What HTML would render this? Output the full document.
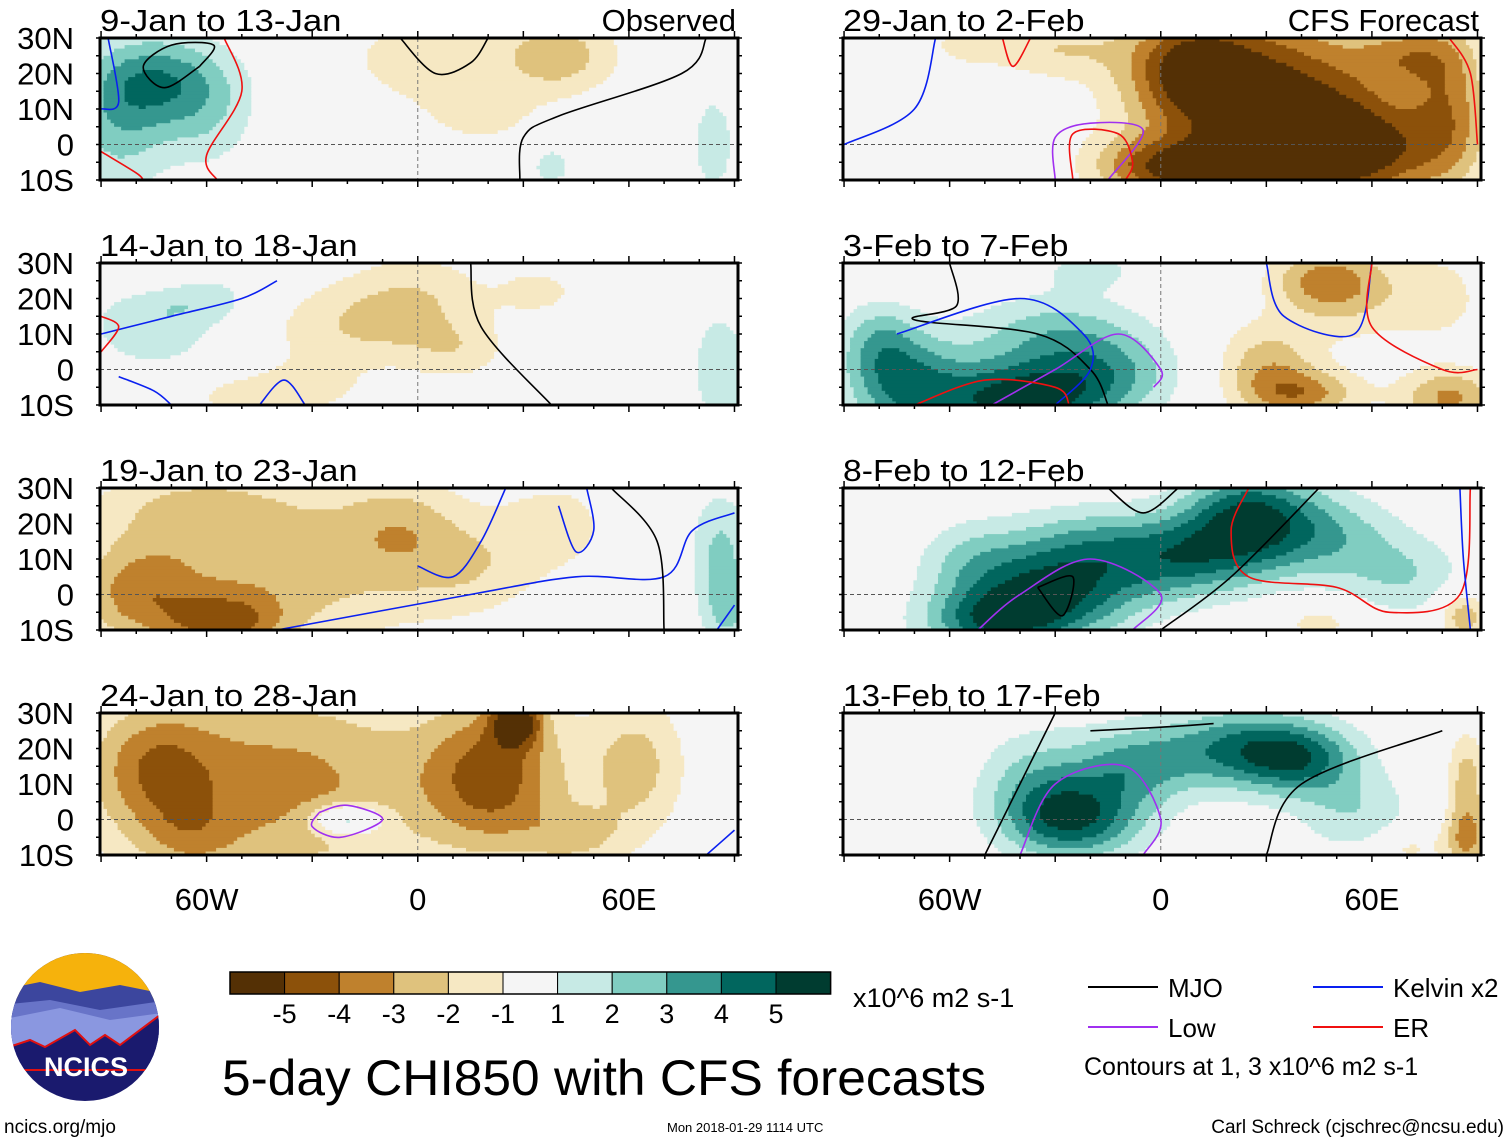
<!DOCTYPE html>
<html><head><meta charset="utf-8"><style>
body{margin:0;background:#fff;width:1510px;height:1142px;overflow:hidden;font-family:"Liberation Sans",Arial,sans-serif}
svg{display:block}
</style></head><body>
<svg id="fig" width="1510" height="1142" viewBox="0 0 1510 1142" xmlns="http://www.w3.org/2000/svg" font-family="Liberation Sans, Arial, sans-serif"></svg>
<script>
// ---- data ----
const levels = [-5,-4,-3,-2,-1,1,2,3,4,5];
const colors = ["#543005","#8c510a","#bf812d","#dfc27d","#f6e8c3","#f5f5f5","#c7eae5","#80cdc1","#35978f","#01665e","#003c30"];
const colorTickLabels = ["-5","-4","-3","-2","-1","1","2","3","4","5"];
const panelTitles = ["9-Jan to 13-Jan","14-Jan to 18-Jan","19-Jan to 23-Jan","24-Jan to 28-Jan","29-Jan to 2-Feb","3-Feb to 7-Feb","8-Feb to 12-Feb","13-Feb to 17-Feb"];
const latTicks = ["30N","20N","10N","0","10S"];
const latValues = [30,20,10,0,-10];
const lonTicks = ["60W","0","60E"];
const lonValues = [-60,0,60];
// anomaly blobs per panel: [lon, lat, amplitude, lonWidth, latWidth]
const blobs1 = [[-72,18,3.4,14,9],[-85,5,2.2,10,14],[-60,5,1.3,10,10],[40,25,-2.6,12,8],[2,24,-1.7,16,9],[18,8,-1.3,12,6],[84,0,1.5,5,12],[38,-6,1.4,5,5]];
const blobs2 = [[-20,12,-1.7,18,9],[0,20,-1.6,14,10],[12,5,-1.3,10,6],[-50,-8,-1.4,12,5],[-75,12,1.7,14,9],[-60,20,1.2,12,5],[86,0,1.8,6,12],[-78,28,-1.3,10,4],[35,22,-1.2,10,6],[-30,-5,-1.2,10,5]];
const blobs3 = [[-40,8,-2.6,32,16],[-80,0,-2.6,12,10],[-55,-8,-3.2,12,6],[-5,20,-1.6,12,10],[15,8,-1.4,14,10],[-65,25,-1.4,20,8],[40,20,-1.3,12,10],[86,12,2.2,6,12],[88,-5,1.8,5,8]];
const blobs4 = [[-40,10,-3.4,35,20],[22,12,-4.0,14,15],[28,28,-4.6,5,5],[-75,15,-2.4,12,12],[-65,-5,-1.4,10,8],[-20,0,3.6,7,3],[62,15,-2.4,10,14],[45,-5,-1.8,10,6]];
const blobs5 = [[30,12,-5.6,24,18],[55,-2,-4.6,18,10],[8,22,-3.4,12,10],[-5,-6,-2.4,12,6],[82,12,-2.8,8,16],[-30,27,-1.8,14,6],[15,-8,-3.5,14,6],[70,25,-2.2,10,6],[-55,28,-1.3,8,4]];
const blobs6 = [[-40,-9,5.4,16,8],[-72,-5,3.8,12,10],[-15,-2,2.6,14,8],[-30,10,2.4,18,8],[-80,8,2.2,8,8],[30,2,-2.4,10,8],[40,-7,-3.2,12,5],[55,22,-2.0,14,10],[82,-8,-3.2,10,6],[45,25,-2.2,10,6],[-20,28,1.3,10,4],[80,20,-1.3,8,8]];
const blobs7 = [[-32,0,4.8,18,9],[25,22,4.8,13,9],[8,10,3.4,16,8],[-48,-8,3.4,14,6],[48,16,2.4,14,9],[70,5,1.8,12,8],[-20,14,2.4,18,8],[-55,10,1.4,10,8],[86,-6,-2.8,5,5],[45,-8,-1.5,8,4]];
const blobs8 = [[-25,0,4.8,14,8],[22,20,3.8,16,8],[-8,15,2.8,12,8],[40,17,3.4,12,7],[55,2,1.8,12,8],[-35,12,2.0,12,10],[87,10,-2.6,4,10],[87,-6,-2.8,5,6],[70,-8,-1.4,6,4]];
const panelBlobs = [blobs1,blobs2,blobs3,blobs4,blobs5,blobs6,blobs7,blobs8];
// contour lines [type, [[lon,lat],...]]
const contours1 = [["mjo",[[-62,22],[-58,28],[-70,28],[-78,22],[-72,16],[-62,22]]],["er",[[-55,30],[-50,15],[-60,-3],[-57,-10]]],["er",[[-90,-2],[-80,-8],[-78,-10]]],["kelvin",[[-88,30],[-85,12],[-90,10]]],["mjo",[[-5,30],[5,20],[15,23],[20,30]]],["mjo",[[29,-10],[30,2],[40,8],[75,20],[82,30]]]];
const contours2 = [["kelvin",[[-90,10],[-70,15],[-50,20],[-40,25]]],["kelvin",[[-85,-2],[-75,-6],[-70,-10]]],["kelvin",[[-45,-10],[-38,-3],[-32,-10]]],["er",[[-90,5],[-85,12],[-90,15]]],["mjo",[[15,30],[18,12],[38,-10]]]];
const contours3 = [["kelvin",[[0,8],[10,5],[18,15],[25,30]]],["kelvin",[[-40,-10],[15,0],[45,5],[70,5],[78,18],[90,23]]],["kelvin",[[40,25],[45,12],[50,18],[48,30]]],["mjo",[[70,-10],[68,15],[55,30]]],["kelvin",[[85,-10],[90,-3]]]];
const contours4 = [["low",[[-28,2],[-20,4],[-10,0],[-22,-5],[-30,-2],[-28,2]]],["kelvin",[[82,-10],[90,-3]]]];
const contours5 = [["kelvin",[[-90,0],[-70,10],[-64,30]]],["low",[[-30,-10],[-30,2],[-20,6],[-5,4],[-15,-10]]],["er",[[-25,-10],[-25,3],[-12,3],[-8,-5],[-10,-10]]],["er",[[-45,30],[-42,22],[-37,30]]],["er",[[82,30],[88,20],[90,0]]]];
const contours6 = [["mjo",[[-60,30],[-58,18],[-70,14],[-35,10],[-20,0],[-15,-10]]],["kelvin",[[-75,10],[-40,20],[-22,10],[-20,0],[-30,-10]]],["low",[[-48,-10],[-30,0],[-12,10],[0,0],[-2,-5]]],["er",[[-70,-10],[-50,-3],[-30,-5],[-26,-10]]],["kelvin",[[30,30],[35,15],[55,10],[60,30]]],["er",[[60,30],[60,12],[80,0],[90,0]]]];
const contours7 = [["low",[[-52,-10],[-40,0],[-20,10],[0,0],[-8,-10]]],["mjo",[[-35,2],[-25,5],[-28,-6],[-35,2]]],["mjo",[[-15,30],[-5,23],[5,30]]],["er",[[25,30],[20,18],[25,5],[50,2],[65,-5],[85,0],[88,30]]],["mjo",[[0,-10],[20,5],[45,30]]],["kelvin",[[85,30],[86,10],[88,-10]]]];
const contours8 = [["mjo",[[-50,-10],[-40,10],[-30,30]]],["low",[[-40,-10],[-30,10],[-10,15],[0,0],[-5,-10]]],["mjo",[[-20,25],[0,26],[15,27]]],["mjo",[[30,-10],[40,10],[80,25]]]];
const panelContours = [contours1,contours2,contours3,contours4,contours5,contours6,contours7,contours8];

// ---- layout ----
const NS="http://www.w3.org/2000/svg";
const svg=document.getElementById('fig');
function mk(tag,attrs,parent){const e=document.createElementNS(NS,tag);for(const k in attrs)e.setAttribute(k,attrs[k]);(parent||svg).appendChild(e);return e;}
const colX=[100,843], rowY=[38,263,488,713], PW=638, PH=142;
const LON0=-90.3, LON1=91, LAT0=30, LAT1=-10;
const lineCol={mjo:"#000",kelvin:"#0a20f0",low:"#a030f0",er:"#f01010"};
function levelIndex(v){ if(v<=-5) return 0; if(v<=-4) return 1; if(v<=-3) return 2; if(v<=-2) return 3; if(v<=-1) return 4; if(v<1) return 5; if(v<2) return 6; if(v<3) return 7; if(v<4) return 8; if(v<5) return 9; return 10;}
function smoothPath(P){
  let d='M'+P[0][0].toFixed(1)+','+P[0][1].toFixed(1);
  for(let i=0;i<P.length-1;i++){
    const p0=P[Math.max(i-1,0)],p1=P[i],p2=P[i+1],p3=P[Math.min(i+2,P.length-1)];
    const c1=[p1[0]+(p2[0]-p0[0])/6,p1[1]+(p2[1]-p0[1])/6];
    const c2=[p2[0]-(p3[0]-p1[0])/6,p2[1]-(p3[1]-p1[1])/6];
    d+=' C'+c1.map(v=>v.toFixed(1)).join(',')+' '+c2.map(v=>v.toFixed(1)).join(',')+' '+p2.map(v=>v.toFixed(1)).join(',');
  }
  return d;
}

panelTitles.forEach((title,p)=>{
  const col=p<4?0:1,row=p%4;
  const x0=colX[col],y0=rowY[row];
  const g=mk('g',{},svg);
  
  
  const xs=lon=>x0+(lon-LON0)/(LON1-LON0)*PW;
  const ys=lat=>y0+(LAT0-lat)/(LAT0-LAT1)*PH;
  const blobs=panelBlobs[p];
  const field=(lon,lat)=>{let s=0;for(const b of blobs){const dx=(lon-b[0])/b[3],dy=(lat-b[1])/b[4];s+=b[2]*Math.exp(-(dx*dx+dy*dy)/2);}return s;};
  const cg=mk('g',{},g);
  
  
  const step=1;
  for(let lat=LAT0;lat>LAT1;lat-=step){
    let runStart=LON0,runIdx=null;
    for(let lon=LON0;lon<=LON1+step;lon+=step){
      const idx=lon>LON1?-1:levelIndex(field(lon+step/2,lat-step/2));
      if(idx!==runIdx){
        if(runIdx!==null&&runIdx>=0){
          const r=mk('rect',{x:xs(runStart).toFixed(1),y:ys(lat).toFixed(1),width:(xs(Math.min(lon,LON1))-xs(runStart)+0.6).toFixed(1),height:(ys(lat-step)-ys(lat)+0.6).toFixed(1),fill:colors[runIdx]},cg);
          
          
        }
        runIdx=idx;runStart=lon;
      }
    }
  }
  mk('line',{x1:x0,x2:x0+PW,y1:ys(0),y2:ys(0),stroke:'#555','stroke-dasharray':'4,3','stroke-width':1},g);
  mk('line',{x1:xs(0),x2:xs(0),y1:y0,y2:y0+PH,stroke:'#777','stroke-dasharray':'4,3','stroke-width':1},g);
  const clipId='pc'+p;
  mk('defs',{},g).innerHTML='<clipPath id="'+clipId+'"><rect x="'+x0+'" y="'+y0+'" width="'+PW+'" height="'+PH+'"/></clipPath>';
  const lg=mk('g',{'clip-path':'url(#'+clipId+')'},g);
  panelContours[p].forEach(c=>{
    const P=c[1].map(q=>[xs(q[0]),ys(q[1])]);
    const pa=mk('path',{d:smoothPath(P),fill:'none',stroke:lineCol[c[0]],'stroke-width':1.6,'stroke-linejoin':'round'},lg);
    
    
  });
  const fr=mk('rect',{x:x0,y:y0,width:PW,height:PH,fill:'none',stroke:'#000','stroke-width':3},g);
  
  
  for(let lon=-90;lon<=90;lon+=10){const L=(lon%30===0)?7:4;mk('line',{x1:xs(lon),x2:xs(lon),y1:y0,y2:y0-L,stroke:'#000','stroke-width':1.5},g);mk('line',{x1:xs(lon),x2:xs(lon),y1:y0+PH,y2:y0+PH+L,stroke:'#000','stroke-width':1.5},g);}
  for(let lat=-10;lat<=30;lat+=5){mk('line',{x1:x0,x2:x0-4,y1:ys(lat),y2:ys(lat),stroke:'#000','stroke-width':1.5},g);mk('line',{x1:x0+PW,x2:x0+PW+4,y1:ys(lat),y2:ys(lat),stroke:'#000','stroke-width':1.5},g);}
  const t=mk('text',{x:x0,y:y0-7,'font-size':31,fill:'#000',textLength:title.length*16.1,lengthAdjust:'spacingAndGlyphs'},g);t.textContent=title;
  
  
  if(row===0){const s=mk('text',{x:x0+PW-2,y:y0-7,'font-size':31,'text-anchor':'end'},g);s.textContent=col===0?'Observed':'CFS Forecast';
    
    }
  if(col===0){latTicks.forEach((lb,i)=>{const tt=mk('text',{x:74,y:ys(latValues[i])+11,'font-size':31,'text-anchor':'end'},g);tt.textContent=lb;
    
    });}
  if(row===3){lonTicks.forEach((lb,i)=>{const tt=mk('text',{x:xs(lonValues[i]),y:910,'font-size':31,'text-anchor':'middle'},g);tt.textContent=lb;
    
    });}
});

const cb=mk('g',{},svg);


colors.forEach((c,i)=>{const r=mk('rect',{x:230+i*54.6,y:972,width:54.6,height:22,fill:c,stroke:'#000','stroke-width':1},cb);
  
  });
mk('rect',{x:230,y:972,width:600.6,height:22,fill:'none',stroke:'#000','stroke-width':1.5},cb);
colorTickLabels.forEach((lb,i)=>{const t=mk('text',{x:230+(i+1)*54.6,y:1023,'font-size':27,'text-anchor':'middle'},cb);t.textContent=lb;
  
  });
function txt(x,y,s,str,name,anchor){const t=mk('text',{x:x,y:y,'font-size':s,'text-anchor':anchor||'start'});t.textContent=str;return t;}
txt(853,1007,27,'x10^6 m2 s-1','colorbar-units');
const ft=txt(222,1095,50,'5-day CHI850 with CFS forecasts','figure-title');
ft.setAttribute('textLength','764');ft.setAttribute('lengthAdjust','spacingAndGlyphs');
const leg=[["mjo","MJO",1088,987],["low","Low",1088,1027],["kelvin","Kelvin x2",1313,987],["er","ER",1313,1027]];
leg.forEach(l=>{const ln=mk('line',{x1:l[2],x2:l[2]+70,y1:l[3],y2:l[3],stroke:lineCol[l[0]],'stroke-width':2});
  
  
  txt(l[2]+80,l[3]+10,26,l[1],'legend-label-'+l[0]);});
txt(1084,1075,25,'Contours at 1, 3 x10^6 m2 s-1','contour-note');
txt(4,1133,19,'ncics.org/mjo','source-url');
txt(667,1132,13,'Mon 2018-01-29 1114 UTC','timestamp');
txt(1504,1133,19,'Carl Schreck (cjschrec@ncsu.edu)','author-credit','end');
const lg=mk('g',{});


mk('defs',{},lg).innerHTML='<clipPath id="lc"><circle cx="85" cy="1027" r="74"/></clipPath>';
const cl=mk('g',{'clip-path':'url(#lc)'},lg);
mk('rect',{x:0,y:950,width:170,height:160,fill:'#1a1a6e'},cl);
mk('rect',{x:0,y:950,width:170,height:50,fill:'#f6b20c'},cl);
mk('path',{d:'M0 990 L40 982 L80 992 L120 985 L170 995 L170 1040 L0 1055Z',fill:'#3c469e'},cl);
mk('path',{d:'M0 1005 L50 1000 L100 1010 L170 1000 L170 1030 L0 1050Z',fill:'#6874c8'},cl);
mk('path',{d:'M0 1020 L60 1008 L110 1020 L170 1012 L170 1045 L0 1060Z',fill:'#8a97e0'},cl);
mk('path',{d:'M0 1050 L30 1040 L45 1047 L75 1030 L90 1045 L105 1035 L120 1045 L160 1015 L170 1010 L170 1070 L0 1070Z',fill:'#1a1a6e',stroke:'#e01010','stroke-width':2},cl);
const lt=mk('text',{x:86,y:1076,'font-size':27,'font-weight':'bold',fill:'#fff','text-anchor':'middle'},lg);lt.textContent='NCICS';


</script>
</body></html>
